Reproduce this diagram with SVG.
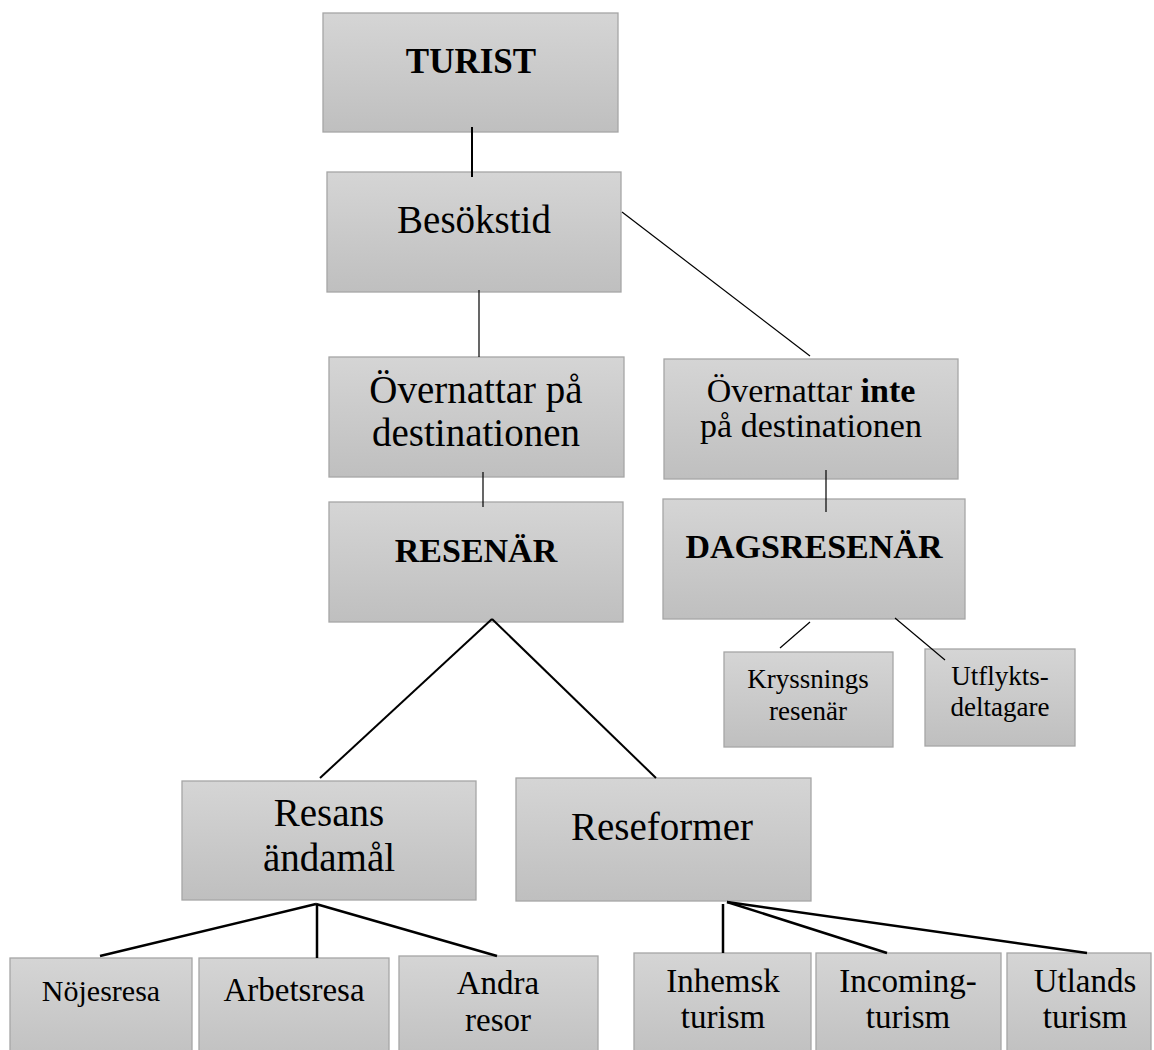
<svg xmlns="http://www.w3.org/2000/svg" width="1154" height="1050" viewBox="0 0 1154 1050">
<defs>
<linearGradient id="g" x1="0" y1="0" x2="0" y2="1">
<stop offset="0" stop-color="#d5d5d5"/>
<stop offset="1" stop-color="#bfbfbf"/>
</linearGradient>
<style>
.box{fill:url(#g);stroke:#a6a6a6;stroke-width:1.3}
text{font-family:"Liberation Serif","Times New Roman",serif;fill:#000;text-anchor:middle}
.b{font-weight:bold}
.L{font-size:39px}
.M{font-size:34px}
.S{font-size:27px}
.c line{stroke:#000;stroke-linecap:butt}
.t1{stroke-width:1.2}
.t2{stroke-width:2}
.t3{stroke-width:2.5}
</style>
</defs>
<rect width="1154" height="1050" fill="#fff"/>

<g id="n-turist"><rect class="box" x="323" y="13" width="295" height="119"/><text class="b M" x="471" y="73" style="font-size:35px">TURIST</text></g>
<g id="n-besokstid"><rect class="box" x="327" y="172" width="294" height="120"/><text class="L" x="474" y="233">Besökstid</text></g>
<g id="n-overnattar"><rect class="box" x="329" y="357" width="295" height="120"/><text class="L" x="476" y="403">Övernattar på</text><text class="L" x="476" y="446">destinationen</text></g>
<g id="n-resenar"><rect class="box" x="329" y="502" width="294" height="120"/><text class="b M" x="476" y="562">RESENÄR</text></g>
<g id="n-inte"><rect class="box" x="664" y="359" width="294" height="120"/><text class="M" x="811" y="402">Övernattar <tspan class="b">inte</tspan></text><text class="M" x="811" y="437">på destinationen</text></g>
<g id="n-dagsresenar"><rect class="box" x="663" y="499" width="302" height="120"/><text class="b M" x="814" y="558">DAGSRESENÄR</text></g>
<g id="n-kryssnings"><rect class="box" x="724" y="652" width="169" height="95"/><text class="S" x="808" y="688">Kryssnings</text><text class="S" x="808" y="720">resenär</text></g>
<g id="n-utflykts"><rect class="box" x="925" y="649" width="150" height="97"/><text class="S" x="1000" y="685">Utflykts-</text><text class="S" x="1000" y="716">deltagare</text></g>
<g id="n-resans"><rect class="box" x="182" y="781" width="294" height="119"/><text class="L" x="329" y="826">Resans</text><text class="L" x="329" y="871">ändamål</text></g>
<g id="n-reseformer"><rect class="box" x="516" y="778" width="295" height="123"/><text class="L" x="662" y="840">Reseformer</text></g>
<g id="n-nojesresa"><rect class="box" x="10" y="958" width="182" height="110"/><text x="101" y="1001" style="font-size:30px">Nöjesresa</text></g>
<g id="n-arbetsresa"><rect class="box" x="199" y="958" width="190" height="110"/><text x="294" y="1001" style="font-size:33px">Arbetsresa</text></g>
<g id="n-andra"><rect class="box" x="399" y="956" width="199" height="110"/><text x="498" y="994" style="font-size:33px">Andra</text><text x="498" y="1031" style="font-size:33px">resor</text></g>
<g id="n-inhemsk"><rect class="box" x="634" y="953" width="177" height="110"/><text x="723" y="992" style="font-size:33px">Inhemsk</text><text x="723" y="1028" style="font-size:33px">turism</text></g>
<g id="n-incoming"><rect class="box" x="816" y="953" width="185" height="110"/><text x="908" y="992" style="font-size:33px">Incoming-</text><text x="908" y="1028" style="font-size:33px">turism</text></g>
<g id="n-utlands"><rect class="box" x="1007" y="953" width="144" height="110"/><text x="1085" y="992" style="font-size:33px">Utlands</text><text x="1085" y="1028" style="font-size:33px">turism</text></g>

<g id="connectors" class="c">
<line class="t2" x1="472" y1="127" x2="472" y2="177"/>
<line class="t1" x1="479" y1="290" x2="479" y2="357"/>
<line class="t1" x1="622" y1="212" x2="810" y2="356"/>
<line class="t1" x1="483" y1="472" x2="483" y2="507"/>
<line class="t1" x1="826" y1="470" x2="826" y2="512"/>
<line class="t1" x1="810" y1="622" x2="780" y2="648"/>
<line class="t1" x1="895" y1="618" x2="945" y2="660"/>
<line class="t2" x1="492" y1="619" x2="320" y2="778"/>
<line class="t2" x1="492" y1="619" x2="656" y2="778"/>
<line class="t3" x1="316" y1="904" x2="100" y2="956"/>
<line class="t3" x1="317" y1="904" x2="317" y2="958"/>
<line class="t3" x1="316" y1="904" x2="497" y2="956"/>
<line class="t3" x1="723" y1="904" x2="723" y2="953"/>
<line class="t3" x1="727" y1="902" x2="887" y2="953"/>
<line class="t3" x1="727" y1="902" x2="1087" y2="953"/>
</g>
</svg>
